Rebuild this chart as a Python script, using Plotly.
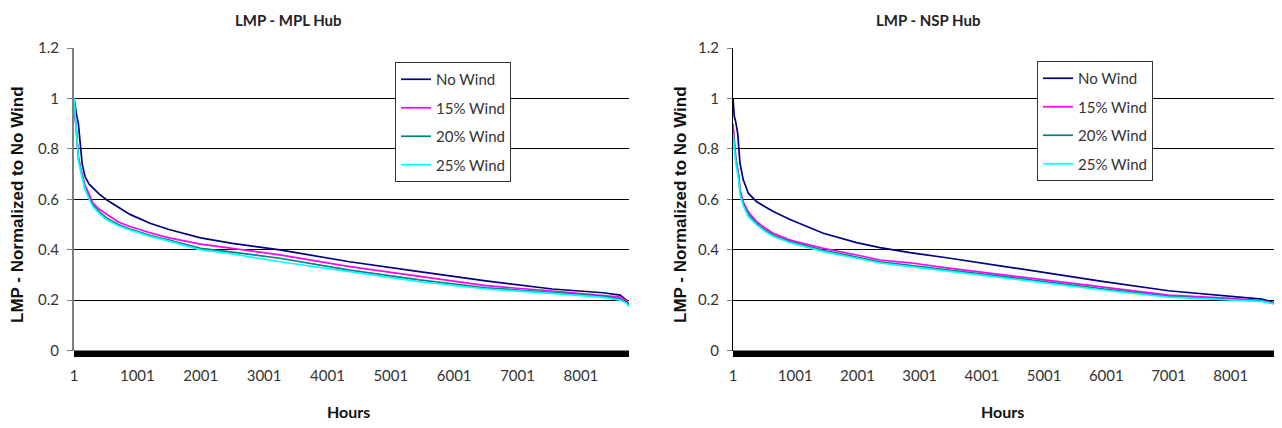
import plotly.graph_objects as go

# The page is drawn with an 8 px body margin, so the figure is sized and
# positioned so that its content lands at the reference pixel positions.
OFF = 8
FW, FH = 1282 - OFF, 428 - OFF

def px(xp):
    return (xp - OFF) / FW

def py(yp):
    return 1 - (yp - OFF) / FH

# ---------------- data ----------------
series_names = ["No Wind", "15% Wind", "20% Wind", "25% Wind"]
x_tick_vals = [1, 1001, 2001, 3001, 4001, 5001, 6001, 7001, 8001]
x_tick_text = ["1", "1001", "2001", "3001", "4001", "5001", "6001", "7001", "8001"]

hours_mpl = [1, 20, 45, 70, 100, 130, 175, 240, 300, 400, 520, 700, 885, 1200,
             1500, 2000, 2500, 3250, 4350, 5450, 6500, 7550, 8350, 8620, 8720, 8760]
mpl_no_wind = [1.0, 0.96, 0.93, 0.90, 0.81, 0.74, 0.69, 0.66, 0.645, 0.62, 0.597, 0.57, 0.54, 0.505,
               0.48, 0.447, 0.425, 0.399, 0.352, 0.313, 0.276, 0.244, 0.229, 0.22, 0.20, 0.18]
mpl_wind15 = [0.98, 0.93, 0.86, 0.77, 0.73, 0.70, 0.655, 0.62, 0.585, 0.56, 0.54, 0.51, 0.492, 0.467,
              0.447, 0.422, 0.405, 0.379, 0.333, 0.293, 0.257, 0.236, 0.22, 0.212, 0.198, 0.18]
mpl_wind20 = [1.0, 0.92, 0.85, 0.76, 0.72, 0.69, 0.645, 0.605, 0.577, 0.55, 0.525, 0.50, 0.482, 0.457,
              0.438, 0.405, 0.39, 0.366, 0.319, 0.28, 0.249, 0.229, 0.216, 0.205, 0.192, 0.178]
mpl_wind25 = [1.0, 0.91, 0.845, 0.756, 0.715, 0.685, 0.64, 0.60, 0.571, 0.543, 0.518, 0.495, 0.478, 0.453,
              0.434, 0.399, 0.383, 0.352, 0.313, 0.273, 0.244, 0.227, 0.211, 0.20, 0.188, 0.175]

hours_nsp = [1, 22, 44, 76, 97, 113, 166, 247, 382, 520, 649, 917, 1238, 1452, 1988,
             2363, 2845, 3435, 4507, 5906, 7000, 8000, 8500, 8700, 8760]
nsp_no_wind = [1.0, 0.928, 0.908, 0.862, 0.796, 0.743, 0.677, 0.624, 0.59, 0.57, 0.551, 0.52, 0.486, 0.465, 0.428,
               0.408, 0.388, 0.368, 0.328, 0.275, 0.237, 0.216, 0.204, 0.19, 0.168]
nsp_wind15 = [0.90, 0.83, 0.77, 0.72, 0.69, 0.64, 0.59, 0.55, 0.511, 0.485, 0.465, 0.438, 0.418, 0.405, 0.379,
              0.359, 0.348, 0.328, 0.295, 0.253, 0.22, 0.207, 0.198, 0.188, 0.166]
nsp_wind20 = [0.88, 0.81, 0.76, 0.71, 0.68, 0.63, 0.58, 0.54, 0.503, 0.477, 0.457, 0.432, 0.411, 0.397, 0.371,
              0.352, 0.338, 0.32, 0.286, 0.246, 0.215, 0.204, 0.196, 0.186, 0.164]
nsp_wind25 = [0.86, 0.80, 0.75, 0.70, 0.67, 0.62, 0.575, 0.531, 0.498, 0.472, 0.452, 0.428, 0.406, 0.392, 0.366,
              0.347, 0.333, 0.315, 0.281, 0.241, 0.212, 0.202, 0.195, 0.185, 0.163]

colors = ["#000080", "#FF00FF", "#008080", "#00FFFF"]

# ---------------- figure ----------------
fig = go.Figure()

for i, (name, vals) in enumerate(zip(series_names, [mpl_no_wind, mpl_wind15, mpl_wind20, mpl_wind25])):
    fig.add_trace(go.Scatter(x=hours_mpl, y=vals, mode="lines", name=name,
                             line=dict(color=colors[i], width=1.7),
                             xaxis="x", yaxis="y", legend="legend", legendgroup=f"a{i}"))
for i, (name, vals) in enumerate(zip(series_names, [nsp_no_wind, nsp_wind15, nsp_wind20, nsp_wind25])):
    fig.add_trace(go.Scatter(x=hours_nsp, y=vals, mode="lines", name=name,
                             line=dict(color=colors[i], width=1.7),
                             xaxis="x2", yaxis="y2", legend="legend2", legendgroup=f"b{i}"))

tick_font = dict(family="Lato, 'Open Sans', sans-serif", size=15, color="#333333")
ydom = [py(350.5), py(48)]

def xaxis_cfg(x0, x1, anchor):
    return dict(domain=[px(x0), px(x1)], range=[1, 8760], tickmode="array",
                tickvals=x_tick_vals, ticktext=x_tick_text, showgrid=False, zeroline=False,
                ticks="", showline=False, anchor=anchor, tickfont=tick_font,
                ticklabelstandoff=14, automargin=False)

def yaxis_cfg(anchor, linecolor, linewidth):
    return dict(domain=ydom, range=[0, 1.2], dtick=0.2, tick0=0, showgrid=True,
                gridcolor="#000000", gridwidth=1, zeroline=False, showline=True,
                linecolor=linecolor, linewidth=linewidth, ticks="outside", ticklen=5,
                tickcolor="#808080", anchor=anchor, tickfont=tick_font,
                ticklabelstandoff=5, automargin=False)

legend_common = dict(xanchor="left", yanchor="top", bgcolor="white", bordercolor="#333333",
                     borderwidth=1, font=dict(family="Lato, 'Open Sans', sans-serif", size=15, color="#333333"),
                     tracegroupgap=6, itemwidth=30)

fig.update_layout(
    width=FW, height=FH, margin=dict(l=0, r=0, t=0, b=0, pad=0, autoexpand=False),
    paper_bgcolor="white", plot_bgcolor="white", showlegend=True,
    xaxis=xaxis_cfg(74, 629, "y"),
    yaxis=yaxis_cfg("x", "#7f7f7f", 2),
    xaxis2=xaxis_cfg(733, 1278, "y2"),
    yaxis2=yaxis_cfg("x2", "#000000", 1),
    legend=dict(x=px(395), y=py(62), **legend_common),
    legend2=dict(x=px(1037), y=py(61), **legend_common),
)

# thick band of category tick marks along the x axis
for xr in ["x domain", "x2 domain"]:
    fig.add_shape(type="rect", xref=xr, yref="paper", x0=0, x1=1,
                  y0=py(357), y1=py(350.5), fillcolor="black", line_width=0, layer="above")

title_font = dict(family="Lato, 'Open Sans', sans-serif", size=15, color="#222222")
axis_title_font = dict(family="'Liberation Sans', Arial, sans-serif", size=17, color="#111111")
hours_font = dict(family="Lato, 'Open Sans', sans-serif", size=16, color="#111111")

annotations = [
    dict(text="<b>LMP - MPL Hub</b>", x=px(288), y=py(8.5), yanchor="top", font=title_font),
    dict(text="<b>LMP - NSP Hub</b>", x=px(928), y=py(8.5), yanchor="top", font=title_font),
    dict(text="<b>LMP - Normalized to No Wind</b>", x=px(17), y=py(205), yanchor="middle",
         textangle=-90, font=axis_title_font),
    dict(text="<b>LMP - Normalized to No Wind</b>", x=px(680), y=py(205), yanchor="middle",
         textangle=-90, font=axis_title_font),
    dict(text="<b>Hours</b>", x=px(349), y=py(411), yanchor="middle", font=hours_font),
    dict(text="<b>Hours</b>", x=px(1002), y=py(411), yanchor="middle", font=hours_font),
]
for a in annotations:
    fig.add_annotation(xref="paper", yref="paper", xanchor="center",
                       showarrow=False, **a)

fig.write_html("out.html", config={"displayModeBar": False})
